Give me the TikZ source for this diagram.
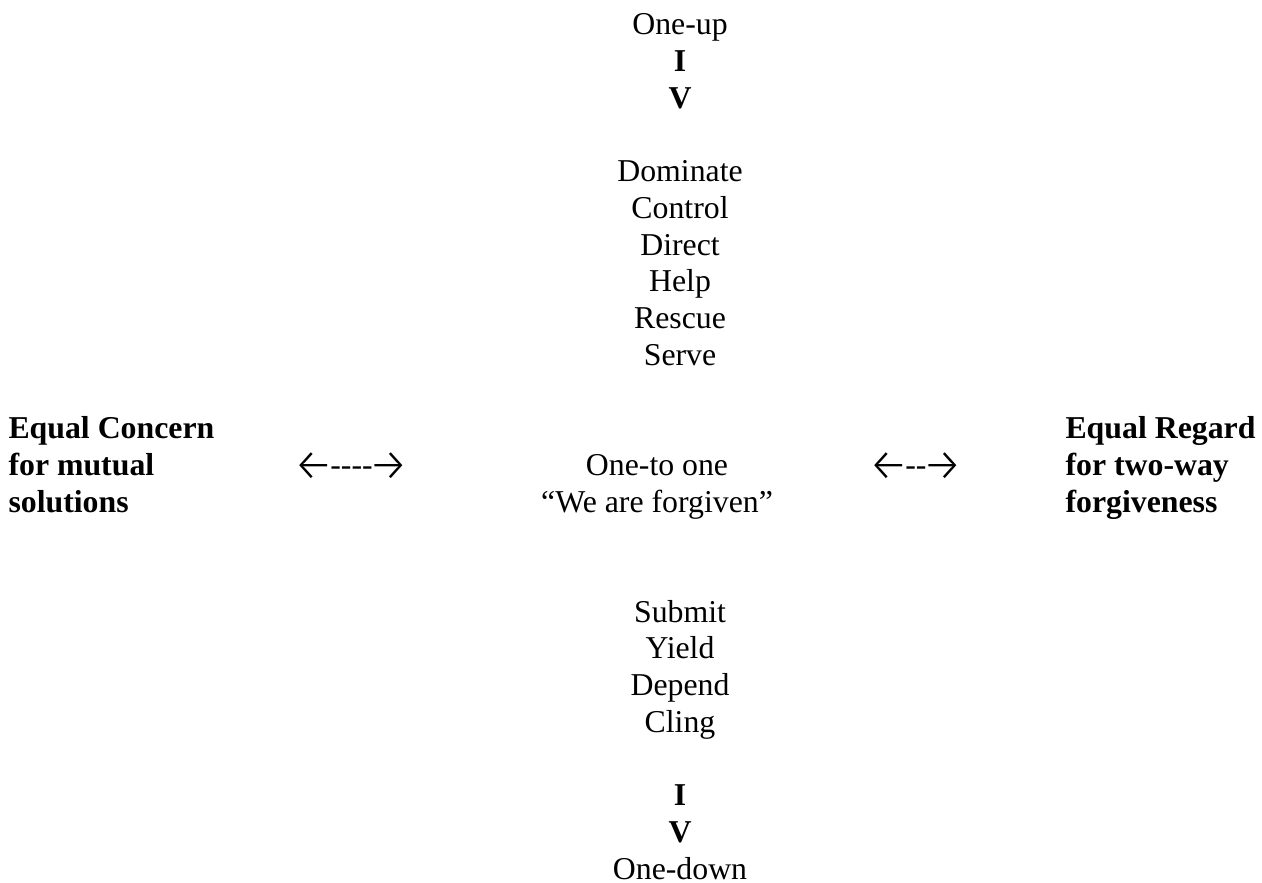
\documentclass[tikz,border=0pt]{standalone}
\usepackage{fontspec}
\setmainfont{Liberation Serif}
\newfontfamily\dashfont{Liberation Serif}[Ligatures=TeXOff]
\newfontfamily\arrowfont{Fira Sans Light}
\newcommand\larr{\raisebox{-1.9pt}{\arrowfont\fontsize{17}{17}\selectfont ←}\kern-1.5pt}
\newcommand\rarr{\kern-1.5pt\raisebox{-1.9pt}{\arrowfont\fontsize{17}{17}\selectfont →}}

\begin{document}
\begin{tikzpicture}[word/.style={font=\fontsize{12}{13.85}\selectfont, inner sep=0pt, anchor=base}]
  \useasboundingbox (0.000,0.000) rectangle (16.738,11.711);
  % top column
  \node[word] (oneup) at (9.019,11.247) {One-up};
  \node[word] (upi) at (9.019,10.760) {\textbf{I}};
  \node[word] (upv) at (9.019,10.274) {\textbf{V}};
  \node[word] (dominate) at (9.019,9.300) {Dominate};
  \node[word] (control) at (9.019,8.813) {Control};
  \node[word] (direct) at (9.019,8.327) {Direct};
  \node[word] (help) at (9.019,7.840) {Help};
  \node[word] (rescue) at (9.019,7.353) {Rescue};
  \node[word] (serve) at (9.019,6.866) {Serve};
  % middle row
  \node[word, anchor=base west] (concern1) at (0.106,5.893) {\textbf{Equal Concern}};
  \node[word, anchor=base west] (concern2) at (0.106,5.406) {\textbf{for mutual}};
  \node[word, anchor=base west] (concern3) at (0.106,4.919) {\textbf{solutions}};
  \node[word, anchor=base west] (leftarrow) at (3.890,5.406) {\larr{\dashfont ----}\rarr};
  \node[word] (onetoone) at (8.714,5.406) {One-to one};
  \node[word] (forgiven) at (8.714,4.919) {“We are forgiven”};
  \node[word, anchor=base west] (rightarrow) at (11.516,5.406) {\larr{\dashfont --}\rarr};
  \node[word, anchor=base west] (regard1) at (14.125,5.893) {\textbf{Equal Regard}};
  \node[word, anchor=base west] (regard2) at (14.125,5.406) {\textbf{for two-way}};
  \node[word, anchor=base west] (regard3) at (14.125,4.919) {\textbf{forgiveness}};
  % bottom column
  \node[word] (submit) at (9.019,3.459) {Submit};
  \node[word] (yield) at (9.019,2.972) {Yield};
  \node[word] (depend) at (9.019,2.485) {Depend};
  \node[word] (cling) at (9.019,1.999) {Cling};
  \node[word] (downi) at (9.019,1.025) {\textbf{I}};
  \node[word] (downv) at (9.019,0.538) {\textbf{V}};
  \node[word] (onedown) at (9.019,0.052) {One-down};
\end{tikzpicture}
\end{document}
